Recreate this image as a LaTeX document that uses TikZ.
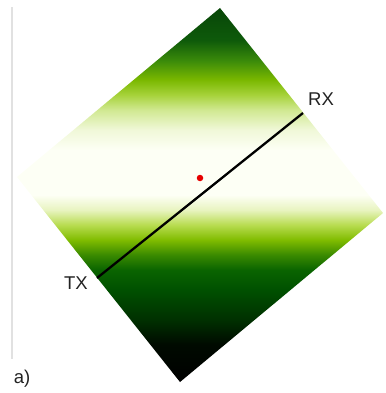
\documentclass[tikz,border=0pt]{standalone}
\usepackage{fontspec}
\setmainfont{Liberation Sans}
\definecolor{s00}{RGB}{0,0,0}
\definecolor{s01}{RGB}{0,10,0}
\definecolor{s02}{RGB}{0,48,0}
\definecolor{s03}{RGB}{0,80,0}
\definecolor{s04}{RGB}{10,100,0}
\definecolor{s05}{RGB}{58,138,0}
\definecolor{s06}{RGB}{128,188,0}
\definecolor{s07}{RGB}{184,220,80}
\definecolor{s08}{RGB}{232,244,192}
\definecolor{s09}{RGB}{253,255,245}
\definecolor{s10}{RGB}{253,255,245}
\definecolor{s11}{RGB}{240,248,216}
\definecolor{s12}{RGB}{208,232,144}
\definecolor{s13}{RGB}{166,210,58}
\definecolor{s14}{RGB}{122,184,0}
\definecolor{s15}{RGB}{58,138,10}
\definecolor{s16}{RGB}{14,90,10}
\definecolor{s17}{RGB}{8,70,8}
\definecolor{labelgray}{RGB}{34,34,34}
\definecolor{rulegray}{RGB}{225,225,225}
\definecolor{dotred}{RGB}{230,0,0}
\pgfdeclareverticalshading{greenfade}{100bp}{%
color(0bp)=(s00); color(25bp)=(s00); color(30bp)=(s01); color(33.3bp)=(s02);
color(37.3bp)=(s03); color(40bp)=(s04); color(42bp)=(s05); color(44bp)=(s06);
color(46bp)=(s07); color(48bp)=(s08); color(50bp)=(s09); color(56bp)=(s10);
color(58.7bp)=(s11); color(61.4bp)=(s12); color(63.4bp)=(s13); color(65.4bp)=(s14);
color(68bp)=(s15); color(70.7bp)=(s16); color(75bp)=(s17); color(100bp)=(s17)}
\tikzset{
  lbl/.style={text=labelgray, font=\fontsize{18.5}{20}\selectfont, inner sep=0pt},
  linkline/.style={draw=black, line width=2.3pt},
}
\begin{document}
\begin{tikzpicture}[x=1pt,y=-1pt]
\useasboundingbox (0,0) rectangle (385,393);
\coordinate (top) at (220,8);
\coordinate (right) at (383,213);
\coordinate (bottom) at (180,382);
\coordinate (left) at (17,177);
\shade[shading=greenfade] (top) -- (right) -- (bottom) -- (left) -- cycle;
\coordinate (rtop) at (12,7);
\coordinate (rbot) at (12,359);
\draw[rulegray, line width=1.3pt] (rtop) -- (rbot);
\coordinate (txp) at (97,278);
\coordinate (rxp) at (303,113);
\draw[linkline] (txp) -- (rxp);
\node[circle, fill=dotred, inner sep=0pt, minimum size=6.5pt] (dot) at (200,178) {};
\node[lbl] (tx) at (76,283) {TX};
\node[lbl] (rx) at (321,99) {RX};
\node[lbl] (a) at (22,379) {a)};
\end{tikzpicture}
\end{document}
